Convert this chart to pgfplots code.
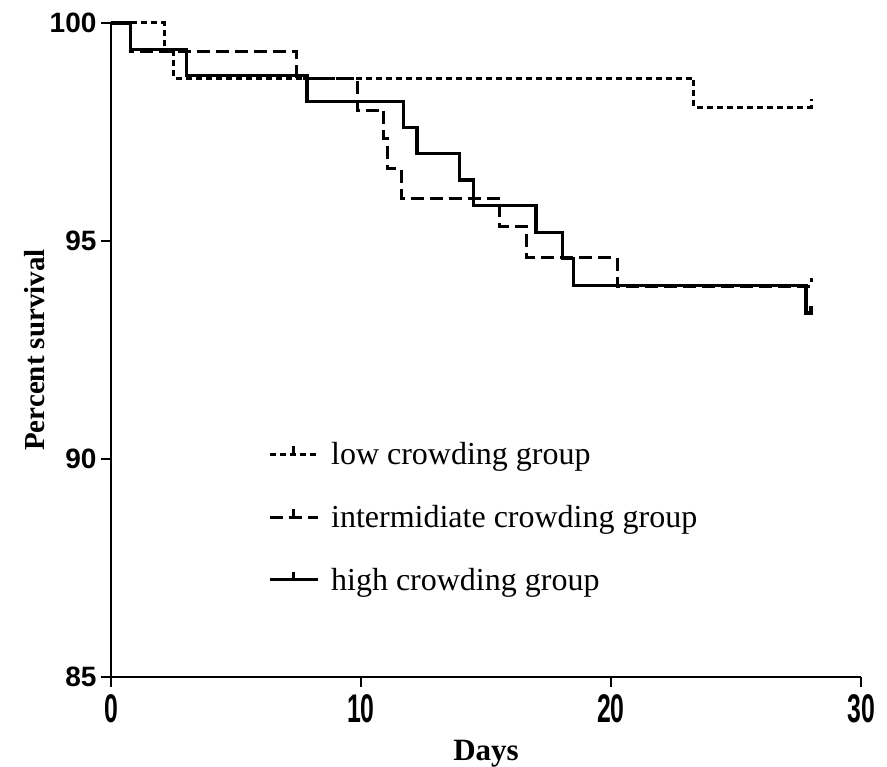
\documentclass[border=0pt]{standalone}
\usepackage{fontspec}
\setmainfont{Liberation Serif}
\setsansfont{Liberation Sans}
\usepackage{graphicx}
\usepackage{pgfplots}
\pgfplotsset{compat=1.18}
\newcommand\sx[1]{\scalebox{0.62}[1]{#1}}
\begin{document}
\begin{tikzpicture}
\path[use as bounding box] (-111pt,-90pt) rectangle (776pt,677pt);
\begin{axis}[
  at={(0pt,0pt)}, anchor=south west,
  width=750pt, height=654pt, scale only axis,
  xmin=0, xmax=30, ymin=85, ymax=100,
  axis lines=left,
  axis line style={-, line width=2.8pt},
  xtick={0,10,20,30}, ytick={85,90,95,100},
  xticklabels={\sx{0},\sx{10},\sx{20},\sx{30}},
  yticklabels={85,90,95,100},
  tick style={line width=2.4pt, black},
  tick align=outside,
  major tick length=10pt,
  minor tick num=0,
  xticklabel style={font=\fontsize{40}{40}\selectfont\sffamily\bfseries, yshift=-4pt},
  yticklabel style={font=\fontsize{28}{28}\selectfont\sffamily\bfseries, xshift=-1pt},
  xlabel={Days}, ylabel={Percent survival},
  xlabel style={font=\fontsize{31}{31}\selectfont\bfseries, yshift=-10pt},
  ylabel style={font=\fontsize{29}{29}\selectfont\bfseries, yshift=-2pt},
  clip=false,
  legend style={at={(0.205,0.365)}, anchor=north west, draw=none, fill=none,
    font=\fontsize{32}{32}\selectfont, row sep=35pt,
    nodes={inner sep=2pt}},
  legend cell align=left,
  legend image code/.code={
    \draw[#1] (0pt,0pt) -- (48pt,0pt);
    \draw[#1, solid, line width=2.4pt] (24pt,0pt) -- (24pt,8pt);
  },
  legend style={/tikz/every odd column/.style={xshift=-3pt}},
  legend style={column sep=0pt},
]
% low crowding group
\addplot[black, line width=3pt, dash pattern=on 6pt off 4pt] coordinates {
 (0,100) (2.13,100) (2.13,99.38) (2.5,99.38) (2.5,98.73)
 (23.3,98.73) (23.3,98.07) (28,98.07) (28,98.25)
};
\addlegendentry{\hspace{10pt}low crowding group}
% intermediate crowding group
\addplot[black, line width=3pt, dash pattern=on 13pt off 6pt] coordinates {
 (0,100) (0.78,100) (0.78,99.35) (7.43,99.35) (7.43,98.73)
 (9.84,98.73) (9.84,98.0) (10.9,98.0) (10.9,97.35) (11.05,97.35)
 (11.05,96.66) (11.6,96.66) (11.6,95.98) (15.55,95.98) (15.55,95.33)
 (16.62,95.33) (16.62,94.62) (20.25,94.62) (20.25,93.95) (28,93.95) (28,94.15)
};
\addlegendentry{\hspace{10pt}intermidiate crowding group}
% high crowding group
\addplot[black, line width=3.2pt] coordinates {
 (0,100) (0.78,100) (0.78,99.4) (3.03,99.4) (3.03,98.8)
 (7.84,98.8) (7.84,98.2) (11.7,98.2) (11.7,97.6) (12.24,97.6)
 (12.24,97.0) (13.95,97.0) (13.95,96.4) (14.51,96.4) (14.51,95.82)
 (17.0,95.82) (17.0,95.2) (18.07,95.2) (18.07,94.6) (18.49,94.6)
 (18.49,93.98) (27.8,93.98) (27.8,93.35) (28,93.35) (28,93.5)
};
\addlegendentry{\hspace{10pt}high crowding group}
\end{axis}
\end{tikzpicture}
\end{document}
